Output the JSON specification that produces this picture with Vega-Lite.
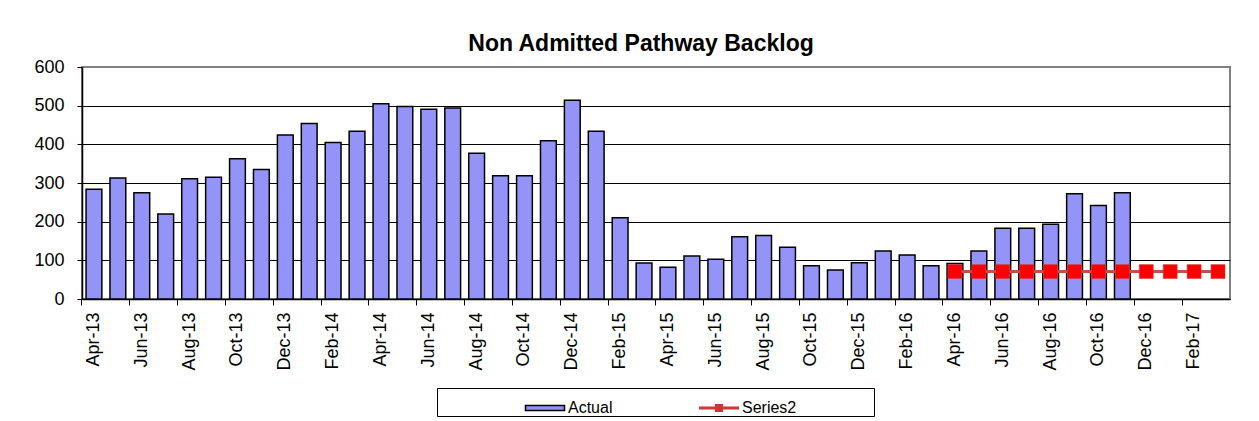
{
  "$schema": "https://vega.github.io/schema/vega-lite/v6.json",
  "width": 1148,
  "height": 232,
  "autosize": {"type": "none"},
  "padding": {"left": 82, "top": 67, "right": 29, "bottom": 122},
  "background": "white",
  "title": {"text": "Non Admitted Pathway Backlog", "frame": "group", "anchor": "middle", "dx": -15, "dy": 34, "offset": 18, "baseline": "alphabetic", "font": "Liberation Sans", "fontSize": 23, "fontWeight": "bold", "color": "black"},
  "config": {"view": {"stroke": "#808080", "strokeWidth": 2}, "font": "Liberation Sans"},
  "data": {"values": [
    {"month": "Apr-13", "actual": 284, "target": null},
    {"month": "May-13", "actual": 313, "target": null},
    {"month": "Jun-13", "actual": 275, "target": null},
    {"month": "Jul-13", "actual": 220, "target": null},
    {"month": "Aug-13", "actual": 311, "target": null},
    {"month": "Sep-13", "actual": 315, "target": null},
    {"month": "Oct-13", "actual": 363, "target": null},
    {"month": "Nov-13", "actual": 335, "target": null},
    {"month": "Dec-13", "actual": 424, "target": null},
    {"month": "Jan-14", "actual": 454, "target": null},
    {"month": "Feb-14", "actual": 405, "target": null},
    {"month": "Mar-14", "actual": 434, "target": null},
    {"month": "Apr-14", "actual": 505, "target": null},
    {"month": "May-14", "actual": 498, "target": null},
    {"month": "Jun-14", "actual": 491, "target": null},
    {"month": "Jul-14", "actual": 494, "target": null},
    {"month": "Aug-14", "actual": 377, "target": null},
    {"month": "Sep-14", "actual": 319, "target": null},
    {"month": "Oct-14", "actual": 319, "target": null},
    {"month": "Nov-14", "actual": 409, "target": null},
    {"month": "Dec-14", "actual": 514, "target": null},
    {"month": "Jan-15", "actual": 434, "target": null},
    {"month": "Feb-15", "actual": 210, "target": null},
    {"month": "Mar-15", "actual": 93, "target": null},
    {"month": "Apr-15", "actual": 82, "target": null},
    {"month": "May-15", "actual": 111, "target": null},
    {"month": "Jun-15", "actual": 103, "target": null},
    {"month": "Jul-15", "actual": 161, "target": null},
    {"month": "Aug-15", "actual": 164, "target": null},
    {"month": "Sep-15", "actual": 134, "target": null},
    {"month": "Oct-15", "actual": 86, "target": null},
    {"month": "Nov-15", "actual": 75, "target": null},
    {"month": "Dec-15", "actual": 94, "target": null},
    {"month": "Jan-16", "actual": 124, "target": null},
    {"month": "Feb-16", "actual": 114, "target": null},
    {"month": "Mar-16", "actual": 86, "target": null},
    {"month": "Apr-16", "actual": 92, "target": 71},
    {"month": "May-16", "actual": 124, "target": 71},
    {"month": "Jun-16", "actual": 183, "target": 71},
    {"month": "Jul-16", "actual": 183, "target": 71},
    {"month": "Aug-16", "actual": 193, "target": 71},
    {"month": "Sep-16", "actual": 272, "target": 71},
    {"month": "Oct-16", "actual": 242, "target": 71},
    {"month": "Nov-16", "actual": 275, "target": 71},
    {"month": "Dec-16", "actual": null, "target": 71},
    {"month": "Jan-17", "actual": null, "target": 71},
    {"month": "Feb-17", "actual": null, "target": 71},
    {"month": "Mar-17", "actual": null, "target": 71}
  ]},
  "encoding": {
    "x": {
      "field": "month", "type": "nominal",
      "scale": {"domain": ["Apr-13","May-13","Jun-13","Jul-13","Aug-13","Sep-13","Oct-13","Nov-13","Dec-13","Jan-14","Feb-14","Mar-14","Apr-14","May-14","Jun-14","Jul-14","Aug-14","Sep-14","Oct-14","Nov-14","Dec-14","Jan-15","Feb-15","Mar-15","Apr-15","May-15","Jun-15","Jul-15","Aug-15","Sep-15","Oct-15","Nov-15","Dec-15","Jan-16","Feb-16","Mar-16","Apr-16","May-16","Jun-16","Jul-16","Aug-16","Sep-16","Oct-16","Nov-16","Dec-16","Jan-17","Feb-17","Mar-17"], "paddingInner": 0.34, "paddingOuter": 0.17},
      "axis": {"title": null, "values": ["Apr-13","Jun-13","Aug-13","Oct-13","Dec-13","Feb-14","Apr-14","Jun-14","Aug-14","Oct-14","Dec-14","Feb-15","Apr-15","Jun-15","Aug-15","Oct-15","Dec-15","Feb-16","Apr-16","Jun-16","Aug-16","Oct-16","Dec-16","Feb-17"], "bandPosition": -0.258, "labelOffset": 0, "labelAngle": -90, "labelAlign": "right", "labelBaseline": "middle", "labelFontSize": 18, "labelFont": "Liberation Sans", "labelColor": "black", "labelPadding": 7, "tickSize": 6, "tickColor": "black", "domainColor": "black", "domainWidth": 1.5, "grid": false, "labelOverlap": false}
    }
  },
  "layer": [
    {
      "transform": [{"filter": "datum.actual != null"}],
      "mark": {"type": "bar", "stroke": "black", "strokeWidth": 1.5},
      "encoding": {
        "y": {"field": "actual", "type": "quantitative", "scale": {"domain": [0, 600], "nice": false},
          "axis": {"title": null, "values": [0, 100, 200, 300, 400, 500, 600], "labelOverlap": false, "grid": true, "gridColor": {"condition": {"test": "datum.value === 600", "value": "#808080"}, "value": "black"}, "gridWidth": 1, "tickColor": "black", "tickSize": 5, "labelFontSize": 18, "labelFont": "Liberation Sans", "labelColor": "black", "labelPadding": 13, "domainColor": "black", "domainWidth": 1.5}},
        "fill": {"datum": "Actual", "type": "nominal", "scale": {"domain": ["Actual"], "range": ["#9494F8"]},
          "legend": {"orient": "none", "legendX": 355, "legendY": 321, "title": "\u00a0", "titleOrient": "right", "titlePadding": 262, "titleFontSize": 16, "strokeColor": "black", "padding": 0, "symbolSize": 1600, "symbolType": "M-0.975,-0.125H0.975V0.125H-0.975Z", "symbolStrokeColor": "black", "symbolStrokeWidth": 1.5, "labelFontSize": 16, "labelFont": "Liberation Sans", "labelColor": "black",
            "encode": {
              "symbols": {"update": {
                "x": {"value": 108},
                "y": {"value": 20},
                "size": {"value": 1600},
                "shape": {"value": "M-0.975,-0.125H0.975V0.125H-0.975Z"},
                "fill": {"value": "#9494F8"},
                "stroke": {"value": "#000000"},
                "strokeWidth": {"value": 1.5},
                "opacity": {"value": 1}
              }},
              "labels": {"update": {
                "x": {"value": 131},
                "y": {"value": 20},
                "baseline": {"value": "middle"},
                "align": {"value": "left"}
              }}
            }}
        }
      }
    },
    {
      "transform": [{"filter": "datum.target != null"}],
      "mark": {"type": "line", "strokeWidth": 3},
      "encoding": {
        "y": {"field": "target", "type": "quantitative", "scale": {"domain": [0, 600], "nice": false},
          "axis": {"title": null, "values": [0, 100, 200, 300, 400, 500, 600], "labelOverlap": false, "grid": true, "gridColor": {"condition": {"test": "datum.value === 600", "value": "#808080"}, "value": "black"}, "gridWidth": 1, "tickColor": "black", "tickSize": 5, "labelFontSize": 18, "labelFont": "Liberation Sans", "labelColor": "black", "labelPadding": 13, "domainColor": "black", "domainWidth": 1.5}},
        "stroke": {"datum": "Series2", "type": "nominal", "scale": {"domain": ["Series2"], "range": ["#C0504D"]},
          "legend": {"orient": "none", "legendX": 529, "legendY": 321, "title": null, "padding": 0, "symbolSize": 1600, "labelFontSize": 16, "labelFont": "Liberation Sans", "labelColor": "black",
            "encode": {
              "symbols": {"update": {
                "x": {"value": 108},
                "y": {"value": 20},
                "size": {"value": 1600},
                "shape": {"value": "M-1,-0.075H1V0.075H-1Z M-0.2,-0.2H0.2V0.2H-0.2Z"},
                "fill": {"value": "#D03535"},
                "stroke": {"value": "#D03535"},
                "strokeWidth": {"value": 0},
                "opacity": {"value": 1}
              }},
              "labels": {"update": {
                "x": {"value": 131},
                "y": {"value": 20},
                "baseline": {"value": "middle"},
                "align": {"value": "left"}
              }}
            }}
        }
      }
    },
    {
      "transform": [{"filter": "datum.target != null"}],
      "mark": {"type": "point", "shape": "square", "filled": true, "fill": "#FF0000", "size": 196, "opacity": 1, "stroke": "#E03C3C", "strokeWidth": 0.5},
      "encoding": {
        "y": {"field": "target", "type": "quantitative", "scale": {"domain": [0, 600], "nice": false},
          "axis": {"title": null, "values": [0, 100, 200, 300, 400, 500, 600], "labelOverlap": false, "grid": true, "gridColor": {"condition": {"test": "datum.value === 600", "value": "#808080"}, "value": "black"}, "gridWidth": 1, "tickColor": "black", "tickSize": 5, "labelFontSize": 18, "labelFont": "Liberation Sans", "labelColor": "black", "labelPadding": 13, "domainColor": "black", "domainWidth": 1.5}}
      }
    }
  ]
}
